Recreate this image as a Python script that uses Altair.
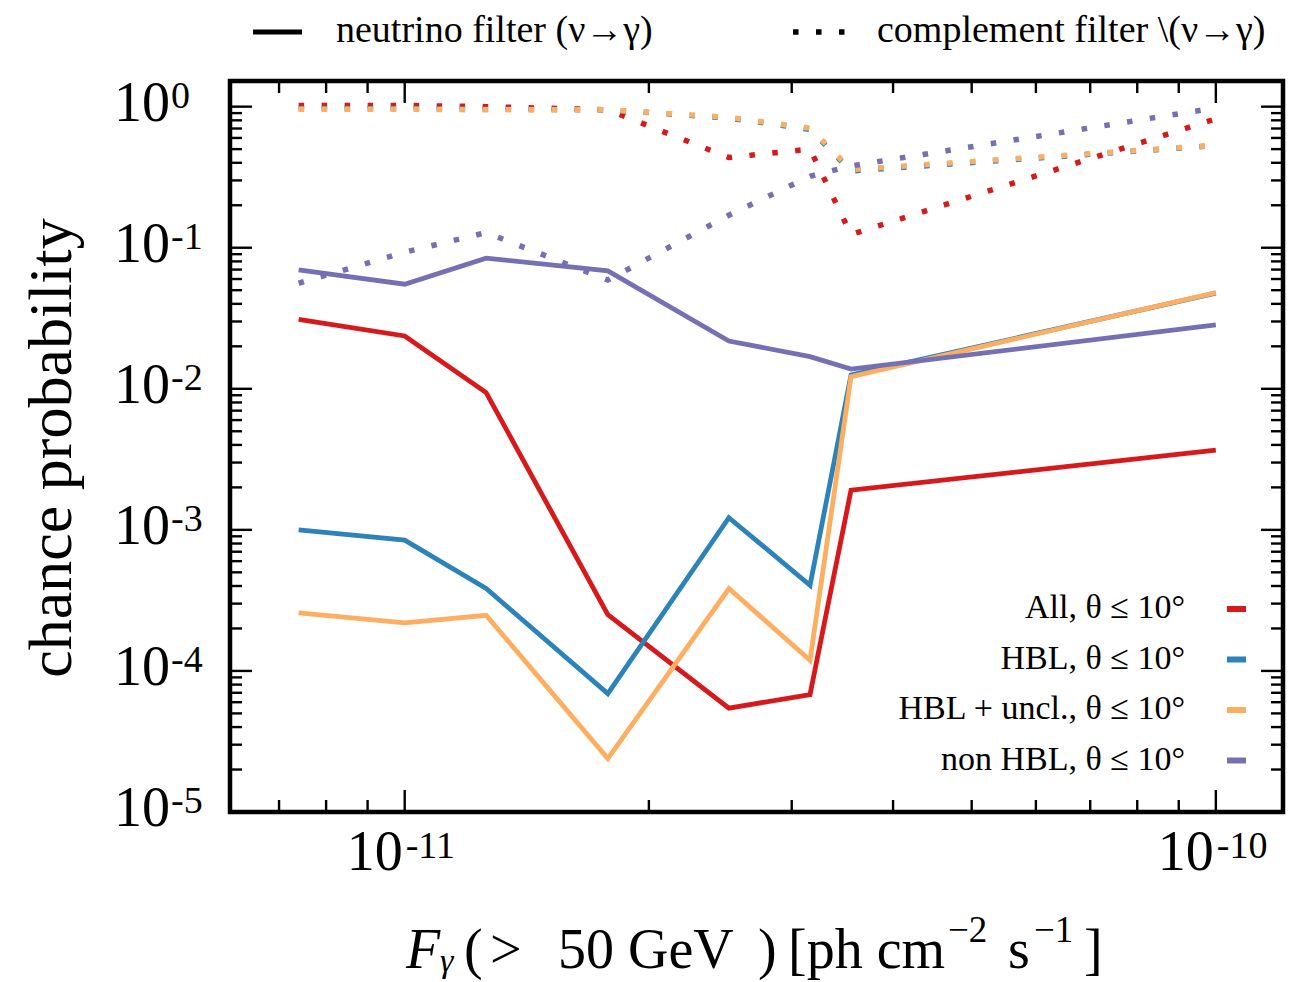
import altair as alt
import pandas as pd

# ---------------- data ----------------
flux = [7.4e-12, 1.0e-11, 1.26e-11, 1.78e-11, 2.51e-11, 3.16e-11, 3.55e-11, 1.0e-10]

samples = ["All", "HBL", "HBL + uncl.", "non HBL"]
colors = ["#d7191c", "#2b83ba", "#fdae61", "#7570b3"]

# neutrino filter (solid)
nu_all = [0.031, 0.0237, 0.0094, 2.51e-4, 5.45e-5, 6.8e-5, 1.91e-3, 3.68e-3]
nu_hbl = [1.0e-3, 8.45e-4, 3.84e-4, 6.9e-5, 1.22e-3, 4.05e-4, 0.0125, 0.0476]
nu_hblu = [2.58e-4, 2.19e-4, 2.48e-4, 2.39e-5, 3.84e-4, 1.19e-4, 0.0122, 0.048]
nu_non = [0.0697, 0.0551, 0.0844, 0.0686, 0.0218, 0.0169, 0.0138, 0.0284]

# complement filter (dotted)
co_all = [1.02, 1.02, 1.0, 0.95, 0.436, 0.50, 0.124, 0.82]
co_hbl = [0.97, 0.97, 0.96, 0.95, 0.83, 0.69, 0.35, 0.53]
co_hblu = [0.96, 0.96, 0.95, 0.95, 0.84, 0.705, 0.358, 0.533]
co_non = [0.056, 0.093, 0.128, 0.059, 0.17, 0.321, 0.38, 0.98]

nu_series = [nu_all, nu_hbl, nu_hblu, nu_non]
co_series = [co_all, co_hbl, co_hblu, co_non]

legend_labels = ["All, θ ≤ 10°", "HBL, θ ≤ 10°", "HBL + uncl., θ ≤ 10°", "non HBL, θ ≤ 10°"]

y_major = [1e-5, 1e-4, 1e-3, 1e-2, 1e-1, 1.0]
y_major_exp = ["-5", "-4", "-3", "-2", "-1", "0"]
y_minor = [m * 10.0 ** k for k in range(-5, 0) for m in range(2, 10)]
x_major = [1e-11, 1e-10]
x_major_exp = ["-11", "-10"]
x_minor = [7e-12, 8e-12, 9e-12, 2e-11, 3e-11, 4e-11, 5e-11, 6e-11, 7e-11, 8e-11, 9e-11]

# ---------------- layout ----------------
PAD_L, PAD_T, PAD_R, PAD_B = 230, 81, 23, 170
W, H = 1306 - PAD_L - PAD_R, 982 - PAD_T - PAD_B
FONT = "Liberation Serif"
MAJ, MIN = 22, 12

xscale = alt.Scale(type="log", domain=[6.09e-12, 1.21e-10], nice=False)
yscale = alt.Scale(type="log", domain=[1e-5, 1.52], nice=False)


def X(field):
    return alt.X(field, type="quantitative", scale=xscale, axis=None)


def Y(field):
    return alt.Y(field, type="quantitative", scale=yscale, axis=None)


def px(v):  # canvas x -> plot x
    return alt.value(v - PAD_L)


def py(v):  # canvas y -> plot y
    return alt.value(v - PAD_T)


layers = []

# ---------------- curves ----------------
for name, col, nu, co in zip(samples, colors, nu_series, co_series):
    df_nu = pd.DataFrame({"flux": flux, "p": nu})
    df_co = pd.DataFrame({"flux": flux, "p": co})
    layers.append(
        alt.Chart(df_nu).mark_line(color=col, strokeWidth=4.8, strokeJoin="miter",
                                   strokeMiterLimit=6, strokeCap="butt")
        .encode(x=X("flux"), y=Y("p"))
    )
    layers.append(
        alt.Chart(df_co).mark_line(color=col, strokeWidth=5.5, strokeDash=[5.5, 17.5],
                                   strokeCap="butt")
        .encode(x=X("flux"), y=Y("p"))
    )

# ---------------- inward ticks on all four sides ----------------
ymaj_df = pd.DataFrame({"v": y_major, "e": y_major_exp})
ymin_df = pd.DataFrame({"v": y_minor})
xmaj_df = pd.DataFrame({"v": x_major, "e": x_major_exp})
xmin_df = pd.DataFrame({"v": x_minor})

for df, ln in [(ymaj_df, MAJ), (ymin_df, MIN)]:
    layers.append(alt.Chart(df).mark_rule(color="black", strokeWidth=2.4)
                  .encode(y=Y("v"), x=alt.value(0), x2=alt.value(ln)))
    layers.append(alt.Chart(df).mark_rule(color="black", strokeWidth=2.4)
                  .encode(y=Y("v"), x=alt.value(W), x2=alt.value(W - ln)))
for df, ln in [(xmaj_df, MAJ), (xmin_df, MIN)]:
    layers.append(alt.Chart(df).mark_rule(color="black", strokeWidth=2.4)
                  .encode(x=X("v"), y=alt.value(0), y2=alt.value(ln)))
    layers.append(alt.Chart(df).mark_rule(color="black", strokeWidth=2.4)
                  .encode(x=X("v"), y=alt.value(H), y2=alt.value(H - ln)))

# ---------------- tick labels (10 with superscript exponent) ----------------
layers.append(alt.Chart(ymaj_df).mark_text(text="10", font=FONT, fontSize=56, align="right",
                                           baseline="alphabetic", dy=14, color="black")
              .encode(y=Y("v"), x=px(170)))
layers.append(alt.Chart(ymaj_df).mark_text(font=FONT, fontSize=38, align="left",
                                           baseline="alphabetic", dy=1, color="black")
              .encode(y=Y("v"), x=px(171), text="e:N"))
layers.append(alt.Chart(xmaj_df).mark_text(text="10", font=FONT, fontSize=56, align="right",
                                           baseline="alphabetic", dx=-2, color="black")
              .encode(x=X("v"), y=py(870)))
layers.append(alt.Chart(xmaj_df).mark_text(font=FONT, fontSize=38, align="left",
                                           baseline="alphabetic", dx=1, color="black")
              .encode(x=X("v"), y=py(858), text="e:N"))

# ---------------- axis titles ----------------
one = pd.DataFrame({"k": [0]})


def label(text, x, y, size, align="left", italic=False, angle=0, baseline="alphabetic"):
    kw = dict(text=text, font=FONT, fontSize=size, align=align, baseline=baseline,
              color="black", angle=angle)
    if italic:
        kw["fontStyle"] = "italic"
    return alt.Chart(one).mark_text(**kw).encode(x=px(x), y=py(y))


layers.append(label("chance probability", 52, 448, 62, align="center", angle=270,
                    baseline="middle"))

# F_gamma(> 50 GeV) [ph cm^-2 s^-1]
layers += [
    label("F", 406, 968, 56, italic=True),
    label("γ", 440, 972, 34, italic=True),
    label("(", 464, 968, 56),
    label(">", 490, 968, 56),
    label("50 GeV", 558, 968, 56),
    label(")", 758, 968, 56),
    label("[ph cm", 788, 968, 56),
    label("−2", 948, 942, 37),
    label("s", 1008, 968, 56),
    label("−1", 1034, 942, 37),
    label("]", 1084, 968, 56),
]

# ---------------- legends ----------------
layers.append(alt.Chart(one).mark_rule(color="black", strokeWidth=4.8, strokeCap="butt")
              .encode(x=px(253), x2=px(302), y=py(32)))
layers.append(label("neutrino filter (ν→γ)", 336, 42, 38))
layers.append(alt.Chart(one).mark_rule(color="black", strokeWidth=5.5, strokeCap="butt",
                                       strokeDash=[5.5, 17.5])
              .encode(x=px(793), x2=px(845), y=py(32)))
layers.append(label("complement filter \\(ν→γ)", 877, 42, 38))

for i, (txt, col) in enumerate(zip(legend_labels, colors)):
    yb = 618 + 50.5 * i
    layers.append(label(txt, 1185, yb, 34, align="right"))
    layers.append(alt.Chart(one).mark_rule(color=col, strokeWidth=6, strokeCap="butt")
                  .encode(x=px(1227), x2=px(1246), y=py(yb - 9)))

chart = (
    alt.layer(*layers)
    .properties(width=W, height=H, background="white",
                padding={"left": PAD_L, "top": PAD_T, "right": PAD_R, "bottom": PAD_B},
                autosize=alt.AutoSizeParams(type="none"))
    .configure_view(stroke="black", strokeWidth=4.5)
)

chart.save("out.html", embed_options={"renderer": "svg", "actions": False})
